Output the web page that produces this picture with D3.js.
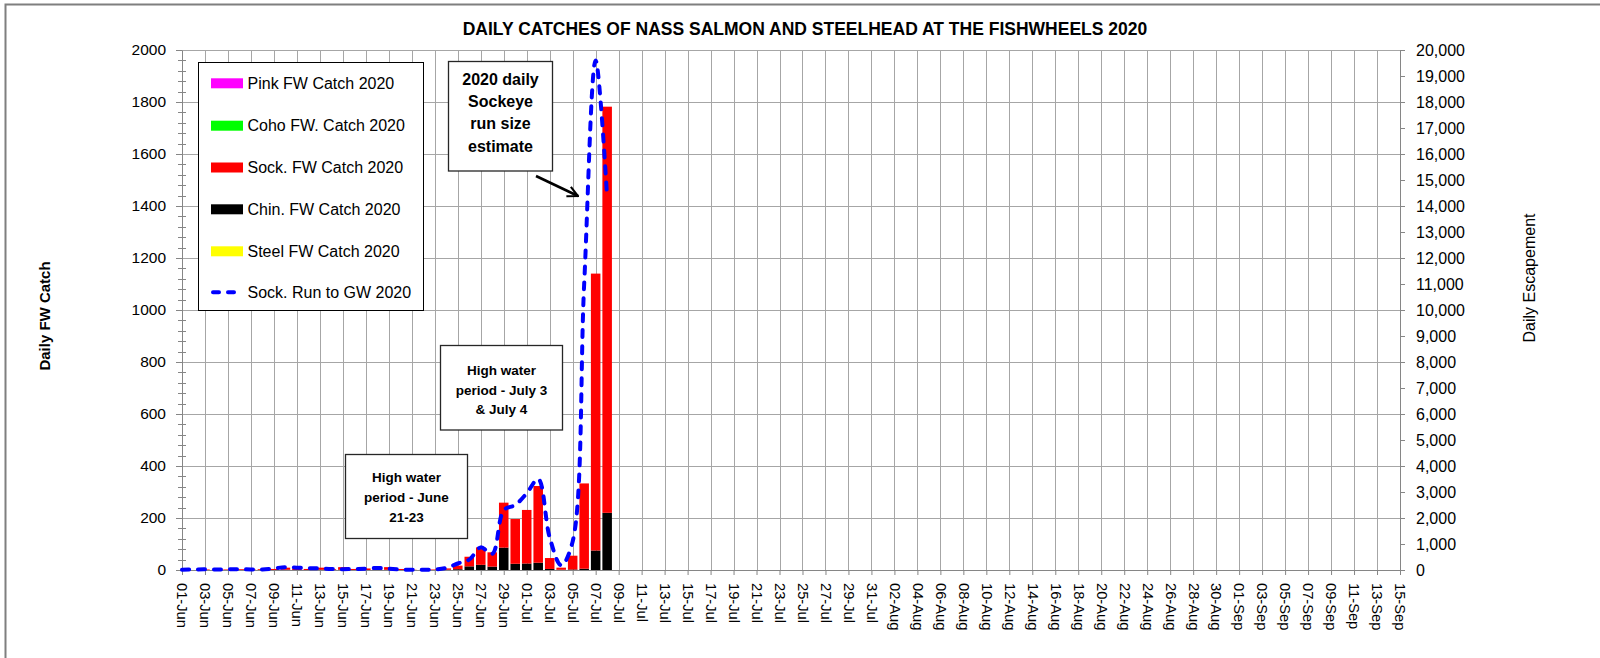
<!DOCTYPE html>
<html><head><meta charset="utf-8">
<script src="https://cdn.jsdelivr.net/npm/d3@7"></script>
<style>
html,body{margin:0;padding:0;background:#fff;}
svg{display:block;font-family:"Liberation Sans",Arial,sans-serif;}
</style></head>
<body>
<svg id="chart" width="1600" height="658"></svg>
<script>
// ---------- DATA ----------
const startDate = "2020-06-01";
const endDate = "2020-09-15";
// daily values from 01-Jun to 08-Jul 2020
const sockCatch  = [0,0,2,1,2,3,2,3,4,8,6,4,8,3,10,4,6,5,10,4,1,0,2,5,14,37,67,55,173,172,206,295,42,8,53,328,1065,1562];
const chinCatch  = [0,0,0,0,0,0,0,0,0,1,0,0,1,0,1,0,0,0,1,0,0,0,0,1,3,14,20,13,86,24,25,28,4,1,2,5,75,220];
const pinkCatch  = [0,0,0,0,0,0,0,0,0,0,0,0,0,0,0,0,0,0,0,0,0,0,0,0,0,0,0,0,0,0,0,0,0,0,0,0,0,0];
const cohoCatch  = [0,0,0,0,0,0,0,0,0,0,0,0,0,0,0,0,0,0,0,0,0,0,0,0,0,0,0,0,0,0,0,0,0,0,0,0,0,0];
const steelCatch = [0,0,0,0,0,0,0,0,0,0,0,0,0,0,0,0,0,0,0,0,0,0,0,0,0,0,0,0,0,0,0,0,0,0,0,0,0,0];
const sockRun    = [10,20,25,15,25,30,20,20,60,110,90,70,60,40,30,40,50,80,50,20,10,10,20,80,250,400,870,620,2300,2500,2950,3500,1250,180,1100,11000,19600,14300];
const leftTicks  = [0,200,400,600,800,1000,1200,1400,1600,1800,2000];
const rightTicks = [0,1000,2000,3000,4000,5000,6000,7000,8000,9000,10000,11000,12000,13000,14000,15000,16000,17000,18000,19000,20000];
const legendNames = ["Pink FW Catch 2020","Coho FW. Catch 2020","Sock. FW Catch 2020","Chin. FW Catch 2020","Steel FW Catch 2020","Sock. Run to GW 2020"];
const legendColors = ["#FF00FF","#00FF00","#FF0000","#000000","#FFFF00","#0000FF"];
const titleText = "DAILY CATCHES OF NASS SALMON AND STEELHEAD AT THE FISHWHEELS 2020";

// ---------- SETUP ----------
const svg = d3.select("#chart");
const parse = d3.timeParse("%Y-%m-%d");
const d0 = parse(startDate), d1 = parse(endDate);
const dates = sockCatch.map((_, i) => d3.timeDay.offset(d0, i));
const rows = dates.map((d, i) => ({date: d, steel: steelCatch[i], chin: chinCatch[i], sock: sockCatch[i], coho: cohoCatch[i], pink: pinkCatch[i], run: sockRun[i]}));

const L = 182, R = 1400, T = 50, B = 570;
const x = d3.scaleTime().domain([d0, d1]).range([L, R]);
const yL = d3.scaleLinear().domain([0, 2000]).range([B, T]);
const yR = d3.scaleLinear().domain([0, 20000]).range([B, T]);
const tickDates = d3.timeDay.range(d0, d3.timeDay.offset(d1, 1), 2);
const step = x(d3.timeDay.offset(d0, 1)) - x(d0);
const barW = step * 0.83;
const grid = "#A6A6A6";

// outer chart border
svg.append("path").attr("d", "M5.5,658 L5.5,4.5 L1600,4.5").attr("fill", "none").attr("stroke", "#7F7F7F").attr("stroke-width", 2);

// title
svg.append("text").attr("x", 805).attr("y", 35).attr("text-anchor", "middle")
  .style("font-weight", "bold").style("font-size", "17.5px").text(titleText);

// gridlines
svg.append("g").selectAll("line").data(leftTicks).join("line")
  .attr("x1", L).attr("x2", R).attr("y1", d => Math.round(yL(d)) + 0.5).attr("y2", d => Math.round(yL(d)) + 0.5)
  .attr("stroke", grid).attr("stroke-width", 1);
svg.append("g").selectAll("line").data(tickDates).join("line")
  .attr("x1", d => Math.round(x(d)) + 0.5).attr("x2", d => Math.round(x(d)) + 0.5).attr("y1", T).attr("y2", B)
  .attr("stroke", grid).attr("stroke-width", 1);

// stacked bars
const keys = ["steel", "chin", "sock", "coho", "pink"];
const colorOf = {steel: "#FFFF00", chin: "#000000", sock: "#FF0000", coho: "#00FF00", pink: "#FF00FF"};
const stacked = d3.stack().keys(keys)(rows);
const gBars = svg.append("g");
stacked.forEach(layer => {
  gBars.append("g").attr("fill", colorOf[layer.key]).selectAll("rect").data(layer).join("rect")
    .attr("x", d => x(d.data.date) - barW / 2)
    .attr("width", barW)
    .attr("y", d => yL(d[1]))
    .attr("height", d => Math.max(0, yL(d[0]) - yL(d[1])));
});

// axes
function styleAxis(g) {
  g.selectAll("path,line").attr("stroke", "#868686");
  g.selectAll("text").attr("fill", "#000").style("font-family", "Liberation Sans, Arial, sans-serif");
}
const axL = svg.append("g").attr("transform", `translate(${L},0)`)
  .call(d3.axisLeft(yL).tickValues(leftTicks).tickSize(6).tickSizeOuter(0).tickPadding(10).tickFormat(d3.format("d")))
  .call(styleAxis);
axL.selectAll("text").style("font-size", "15.5px");
// minor ticks on left axis
svg.append("g").selectAll("line").data(d3.range(0, 2001, 40).filter(v => v % 200 !== 0)).join("line")
  .attr("x1", L - 4).attr("x2", L + 4).attr("y1", d => Math.round(yL(d)) + 0.5).attr("y2", d => Math.round(yL(d)) + 0.5)
  .attr("stroke", "#868686");

const axR = svg.append("g").attr("transform", `translate(${R},0)`)
  .call(d3.axisRight(yR).tickValues(rightTicks).tickSize(5).tickSizeOuter(0).tickPadding(11).tickFormat(d3.format(",")))
  .call(styleAxis);
axR.selectAll("text").style("font-size", "16px");

const axB = svg.append("g").attr("transform", `translate(0,${B})`)
  .call(d3.axisBottom(x).tickValues(tickDates).tickSize(5).tickSizeOuter(0).tickFormat(d3.timeFormat("%d-%b")))
  .call(styleAxis);
axB.selectAll("text").attr("transform", "rotate(90)").attr("x", 13).attr("y", 0).attr("dy", "0.35em")
  .style("text-anchor", "start").style("font-size", "14.7px");

// axis titles
svg.append("text").attr("transform", "translate(50,316) rotate(-90)").attr("text-anchor", "middle")
  .style("font-weight", "bold").style("font-size", "15px").text("Daily FW Catch");
svg.append("text").attr("transform", "translate(1535,278) rotate(-90)").attr("text-anchor", "middle")
  .style("font-size", "16px").text("Daily Escapement");

// sockeye run line
const line = d3.line().x(d => x(d.date)).y(d => yR(d.run)).curve(d3.curveCatmullRom.alpha(0.5));
svg.append("path").datum(rows).attr("d", line).attr("fill", "none").attr("stroke", "#0000FF")
  .attr("stroke-width", 4).attr("stroke-dasharray", "7,9").attr("stroke-linecap", "round");

// legend
const lg = svg.append("g");
lg.append("rect").attr("x", 198.5).attr("y", 62.5).attr("width", 225).attr("height", 248)
  .attr("fill", "#fff").attr("stroke", "#000").attr("stroke-width", 1);
const legY = [83.3, 125.7, 167.5, 209.3, 251.3, 292.3];
legendNames.forEach((n, i) => {
  if (i < 5) {
    lg.append("rect").attr("x", 211).attr("y", legY[i] - 5).attr("width", 32).attr("height", 10).attr("fill", legendColors[i]);
  } else {
    lg.append("line").attr("x1", 213).attr("x2", 243).attr("y1", legY[i]).attr("y2", legY[i])
      .attr("stroke", legendColors[i]).attr("stroke-width", 4).attr("stroke-dasharray", "6,9").attr("stroke-linecap", "round");
  }
  lg.append("text").attr("x", 247.5).attr("y", legY[i]).attr("dy", "0.36em").style("font-size", "16px").text(n);
});

// annotation boxes
function note(x0, y0, w, h, lines, fs, lh, firstY) {
  const g = svg.append("g");
  g.append("rect").attr("x", x0).attr("y", y0).attr("width", w).attr("height", h)
    .attr("fill", "#fff").attr("stroke", "#262626").attr("stroke-width", 1.3);
  const t = g.append("text").attr("text-anchor", "middle").style("font-weight", "bold").style("font-size", fs + "px");
  lines.forEach((s, i) => t.append("tspan").attr("x", x0 + w / 2).attr("y", firstY + i * lh).attr("dy", "0.36em").text(s));
}
note(448.5, 61.5, 104, 109.5, ["2020 daily", "Sockeye", "run size", "estimate"], 16, 22.1, 79.5);
note(440.5, 345.5, 122, 84.5, ["High water", "period - July 3", "& July 4"], 13.5, 19.7, 370);
note(345.5, 454.5, 122, 84, ["High water", "period - June", "21-23"], 13.5, 20, 477);

// arrow
svg.append("defs").append("marker").attr("id", "arr").attr("viewBox", "0 0 10 10").attr("refX", 9).attr("refY", 5)
  .attr("markerWidth", 5).attr("markerHeight", 5).attr("orient", "auto")
  .append("path").attr("d", "M1,1 L9,5 L1,9").attr("fill", "none").attr("stroke", "#000").attr("stroke-width", 1.6);
svg.append("line").attr("x1", 536).attr("y1", 176).attr("x2", 578).attr("y2", 196)
  .attr("stroke", "#000").attr("stroke-width", 2.6).attr("marker-end", "url(#arr)");
</script>
</body></html>
